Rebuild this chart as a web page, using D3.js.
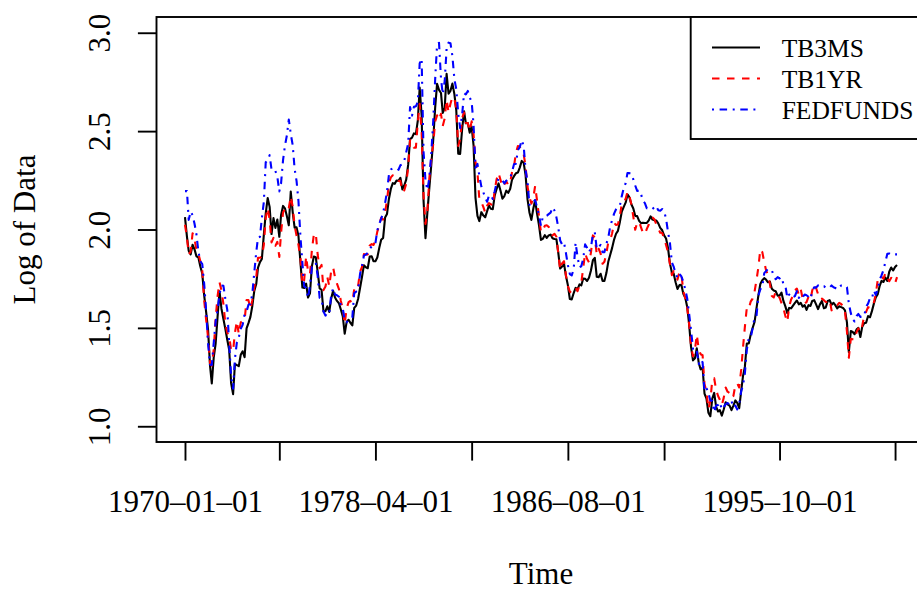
<!DOCTYPE html>
<html>
<head>
<meta charset="utf-8">
<script src="https://cdn.jsdelivr.net/npm/d3@7"></script>
<style>
  html, body { margin: 0; padding: 0; background: #fff; overflow: hidden; }
  svg { display: block; font-family: "Liberation Serif", "Times New Roman", serif; }
</style>
</head>
<body>
<svg id="chart" width="917" height="590"></svg>
<script>
// Monthly interest rates (percent), January 1970 onwards
const firstMonth = "1970-01-01";

const tb3ms = [
  7.87,7.13,6.63,6.51,6.84,6.68,6.45,6.41,6.12,5.91,5.28,4.87,
  4.44,3.70,3.38,3.86,4.14,4.75,5.40,4.94,4.69,4.46,4.22,4.01,
  3.38,3.20,3.73,3.71,3.69,3.91,3.98,3.86,4.47,4.59,4.74,5.01,
  5.41,5.60,6.09,6.26,6.36,7.19,8.01,8.67,8.29,7.22,7.83,7.45,
  7.77,7.12,7.96,8.33,8.23,7.90,7.55,8.96,8.06,7.46,7.47,7.15,
  6.26,5.50,5.49,5.61,5.23,5.34,6.13,6.44,6.42,5.96,5.48,5.44,
  4.87,4.88,5.00,4.86,5.20,5.41,5.23,5.14,5.08,4.92,4.75,4.35,
  4.62,4.67,4.60,4.54,4.96,5.02,5.19,5.49,5.81,6.16,6.10,6.07,
  6.44,6.45,6.29,6.29,6.41,6.73,7.01,7.08,7.85,7.99,8.64,9.08,
  9.35,9.32,9.48,9.46,9.61,9.06,9.24,9.52,10.26,11.70,11.79,12.04,
  12.00,12.86,15.20,13.20,8.58,7.07,8.06,9.13,10.27,11.62,13.73,15.49,
  15.02,14.79,13.36,13.69,16.30,14.73,14.95,15.51,14.70,13.54,10.86,10.85,
  12.28,13.48,12.68,12.70,12.09,12.47,11.35,8.68,7.92,7.71,8.07,7.94,
  7.86,8.11,8.35,8.21,8.19,8.79,9.08,9.34,9.00,8.64,8.76,9.00,
  8.90,9.09,9.52,9.69,9.83,9.87,10.12,10.47,10.37,9.74,8.61,8.06,
  7.76,8.22,8.57,8.00,7.56,7.01,7.05,7.18,7.08,7.17,7.20,7.07,
  7.04,7.03,6.59,6.06,6.12,6.21,5.84,5.57,5.19,5.18,5.35,5.49,
  5.45,5.59,5.56,5.76,5.75,5.69,5.78,6.00,6.32,6.40,5.81,5.80,
  5.90,5.69,5.69,5.92,6.27,6.50,6.73,7.02,7.23,7.34,7.68,8.09,
  8.29,8.48,8.83,8.70,8.40,8.22,7.92,7.91,7.72,7.63,7.65,7.64,
  7.64,7.74,7.90,7.77,7.74,7.73,7.62,7.45,7.36,7.17,7.06,6.74,
  6.22,5.94,5.91,5.65,5.46,5.57,5.58,5.33,5.22,4.99,4.56,4.07,
  3.80,3.84,4.04,3.75,3.63,3.66,3.21,3.13,2.91,2.86,3.13,3.22,
  3.00,2.93,2.95,2.87,2.96,3.07,3.04,3.02,2.95,3.02,3.10,3.06,
  2.98,3.25,3.50,3.68,4.14,4.14,4.33,4.48,4.62,4.95,5.29,5.60,
  5.71,5.77,5.73,5.65,5.67,5.47,5.42,5.40,5.28,5.28,5.36,5.14,
  5.00,4.83,4.96,4.95,5.02,5.09,5.15,5.05,5.09,4.99,5.03,4.91,
  5.03,5.01,5.14,5.16,5.05,4.93,5.05,5.14,4.95,4.97,5.14,5.16,
  5.04,5.09,5.03,4.95,5.00,4.98,4.96,4.90,4.61,3.96,4.41,4.39,
  4.34,4.45,4.48,4.28,4.51,4.59,4.60,4.76,4.73,4.88,5.07,5.23,
  5.32,5.55,5.69,5.66,5.79,5.69,5.96,6.09,6.00,6.11,6.17
];

const tb1yr = [
  7.57,7.10,6.52,6.60,7.25,7.06,6.64,6.53,6.29,6.01,5.15,4.68,
  4.27,3.75,3.70,4.02,4.71,5.27,5.65,5.42,5.06,4.59,4.37,4.30,
  4.00,3.99,4.37,4.64,4.34,4.61,4.64,4.66,5.16,5.16,4.93,5.16,
  5.51,5.79,6.40,6.40,6.44,6.83,7.84,8.25,7.77,6.92,7.08,6.80,
  6.94,6.43,7.26,8.06,8.21,8.11,8.23,8.75,8.29,7.53,7.16,6.83,
  6.39,5.59,5.71,6.45,5.97,5.88,6.65,7.20,7.25,6.50,6.07,6.17,
  5.43,5.53,5.81,5.54,5.98,6.10,5.80,5.61,5.46,5.14,4.95,4.57,
  4.95,5.11,5.14,5.09,5.46,5.42,5.55,5.96,6.11,6.52,6.50,6.51,
  6.81,6.86,6.83,6.97,7.31,7.56,7.84,7.77,8.08,8.55,9.36,9.63,
  9.73,9.57,9.58,9.46,9.46,8.95,9.01,9.33,10.14,11.63,11.58,11.20,
  11.20,12.80,14.00,12.10,8.80,7.60,8.10,9.60,10.60,11.40,12.80,13.20,
  12.90,13.30,12.50,13.00,14.30,13.40,14.00,14.50,14.40,13.60,11.30,11.70,
  13.00,13.40,12.70,12.70,12.20,12.80,12.00,10.40,9.90,8.60,8.50,8.30,
  8.06,8.34,8.45,8.40,8.32,9.03,9.54,9.85,9.50,9.17,9.29,9.45,
  9.26,9.39,9.90,10.19,10.90,11.29,11.25,11.05,10.83,10.19,9.18,8.72,
  8.43,8.69,9.22,8.55,7.91,7.29,7.35,7.53,7.55,7.49,7.37,7.17,
  7.23,7.12,6.57,6.02,6.22,6.29,5.86,5.54,5.39,5.35,5.42,5.49,
  5.40,5.57,5.64,6.08,6.55,6.36,6.25,6.57,7.17,7.10,6.51,6.70,
  6.54,6.21,6.27,6.55,6.92,7.00,7.25,7.64,7.56,7.58,7.93,8.41,
  8.46,8.65,8.95,8.75,8.40,7.89,7.38,7.65,7.69,7.47,7.26,7.22,
  7.41,7.58,7.81,7.85,7.78,7.57,7.42,7.27,7.26,7.06,6.83,6.59,
  6.21,5.86,5.98,5.83,5.73,5.95,5.90,5.40,5.21,4.98,4.57,4.10,
  3.88,4.01,4.33,4.02,3.92,3.90,3.37,3.24,2.97,3.09,3.44,3.47,
  3.27,3.17,3.11,3.03,3.14,3.31,3.24,3.22,3.14,3.17,3.35,3.38,
  3.31,3.62,4.04,4.51,4.96,4.93,5.12,5.20,5.39,5.71,6.11,6.68,
  6.59,6.26,6.01,5.86,5.61,5.27,5.23,5.38,5.25,5.23,5.08,4.96,
  4.76,4.62,4.99,5.18,5.27,5.43,5.47,5.30,5.45,5.19,5.07,5.11,
  5.25,5.17,5.42,5.60,5.49,5.32,5.18,5.20,5.16,5.11,5.11,5.17,
  4.90,4.96,5.04,5.03,5.09,5.06,5.01,4.87,4.40,3.85,4.24,4.23,
  4.22,4.39,4.47,4.39,4.53,4.77,4.86,4.98,4.96,4.96,5.10,5.32,
  5.72,5.82,5.82,5.75,5.92,5.77,5.68,5.78,5.73,5.62,5.80
];

const fedfunds = [
  8.98,8.98,7.76,8.10,7.95,7.61,7.21,6.61,6.29,6.20,5.60,4.90,
  4.14,3.72,3.71,4.16,4.63,4.91,5.31,5.56,5.55,5.20,4.91,4.14,
  3.50,3.29,3.83,4.17,4.27,4.46,4.55,4.80,4.87,5.04,5.06,5.33,
  5.94,6.58,7.09,7.12,7.84,8.49,10.40,10.50,10.78,10.01,10.03,9.95,
  9.65,8.97,9.35,10.51,11.31,11.93,12.92,12.01,11.34,10.06,9.45,8.53,
  7.13,6.24,5.54,5.49,5.22,5.55,6.10,6.14,6.24,5.82,5.22,5.20,
  4.87,4.77,4.84,4.82,5.29,5.48,5.31,5.29,5.25,5.02,4.95,4.65,
  4.61,4.68,4.69,4.73,5.35,5.39,5.42,5.90,6.14,6.47,6.51,6.56,
  6.70,6.78,6.79,6.89,7.36,7.60,7.81,8.04,8.45,8.96,9.76,10.03,
  10.07,10.06,10.09,10.01,10.24,10.29,10.47,10.94,11.43,13.77,13.18,13.78,
  13.82,14.13,17.19,17.61,10.98,9.47,9.03,9.61,10.87,12.81,15.85,18.90,
  19.08,15.93,14.70,15.72,18.52,19.10,19.04,17.82,15.87,15.08,13.31,12.37,
  13.22,14.78,14.68,14.94,14.45,14.15,12.59,10.12,10.31,9.71,9.20,8.95,
  8.68,8.51,8.77,8.80,8.63,8.98,9.37,9.56,9.45,9.48,9.34,9.47,
  9.56,9.59,9.91,10.29,10.32,11.06,11.23,11.64,11.30,9.99,9.43,8.38,
  8.35,8.50,8.58,8.27,7.97,7.53,7.88,7.90,7.92,7.99,8.05,8.27,
  8.14,7.86,7.48,6.99,6.85,6.92,6.56,6.17,5.89,5.85,6.04,6.91,
  6.43,6.10,6.13,6.37,6.85,6.73,6.58,6.73,7.22,7.29,6.69,6.77,
  6.83,6.58,6.58,6.87,7.09,7.51,7.75,8.01,8.19,8.30,8.35,8.76,
  9.12,9.36,9.85,9.84,9.81,9.53,9.24,8.99,9.02,8.84,8.55,8.45,
  8.23,8.24,8.28,8.26,8.18,8.29,8.15,8.13,8.20,8.11,7.81,7.31,
  6.91,6.25,6.12,5.91,5.78,5.90,5.82,5.66,5.45,5.21,4.81,4.43,
  4.03,4.06,3.98,3.73,3.82,3.76,3.25,3.30,3.22,3.10,3.09,2.92,
  3.02,3.03,3.07,2.96,3.00,3.04,3.06,3.03,3.09,2.99,3.02,2.96,
  3.05,3.25,3.34,3.56,4.01,4.25,4.26,4.47,4.73,4.76,5.29,5.45,
  5.53,5.92,5.98,6.05,6.01,6.00,5.85,5.74,5.80,5.76,5.80,5.60,
  5.56,5.22,5.31,5.22,5.24,5.27,5.40,5.22,5.30,5.24,5.31,5.29,
  5.25,5.19,5.39,5.51,5.50,5.56,5.52,5.54,5.54,5.50,5.52,5.50,
  5.56,5.51,5.49,5.45,5.49,5.56,5.54,5.55,5.51,5.07,4.83,4.68,
  4.63,4.76,4.81,4.74,4.74,4.76,4.99,5.07,5.22,5.20,5.42,5.30,
  5.45,5.73,5.85,6.02,6.27,6.53,6.54,6.50,6.52,6.51,6.51
];

const seriesNames  = ["TB3MS", "TB1YR", "FEDFUNDS"];
const seriesColors = ["#000000", "#ff0000", "#0000ff"];
const seriesDashes = [null, "7.5,7.5", "2,5.6,7.5,5.6"];

const xTickDates  = ["1970-01-01", "1974-02-01", "1978-04-01", "1982-06-01",
                     "1986-08-01", "1990-10-01", "1995-10-01", "2000-10-01"];
const xTickLabels = ["1970\u201301\u201301", "", "1978\u201304\u201301", "",
                     "1986\u201308\u201301", "", "1995\u201310\u201301", ""];
const yTicks = [1.0, 1.5, 2.0, 2.5, 3.0];
const yLimits = [1, 3];

const xTitle = "Time";
const yTitle = "Log of Data";

// ---- layout ----
const plot = { left: 156.5, right: 925.5, top: 17, bottom: 442 };
const fontSize = 31;
const legendFont = 25.5;
const lw = 2.1;

const svg = d3.select("#chart");
const parse = d3.timeParse("%Y-%m-%d");
const start = parse(firstMonth);
const months = tb3ms.map((_, i) => d3.timeMonth.offset(start, i));

// 4% padding on both ends of each axis
const t0 = +months[0], t1 = +months[months.length - 1];
const padT = 0.04 * (t1 - t0);
const x = d3.scaleTime()
  .domain([new Date(t0 - padT), new Date(t1 + padT)])
  .range([plot.left, plot.right]);

const padY = 0.04 * (yLimits[1] - yLimits[0]);
const y = d3.scaleLinear()
  .domain([yLimits[0] - padY, yLimits[1] + padY])
  .range([plot.bottom, plot.top]);

// ---- series lines ----
const series = [tb3ms, tb1yr, fedfunds];
const line = d3.line()
  .x(d => x(d.date))
  .y(d => y(Math.log(d.value)));

series.forEach((vals, k) => {
  const pts = vals.map((v, i) => ({ date: months[i], value: v }));
  svg.append("path")
    .datum(pts)
    .attr("d", line)
    .attr("fill", "none")
    .attr("stroke", seriesColors[k])
    .attr("stroke-width", lw)
    .attr("stroke-linejoin", "round")
    .attr("stroke-dasharray", seriesDashes[k]);
});

// ---- plot frame ----
svg.append("rect")
  .attr("x", plot.left).attr("y", plot.top)
  .attr("width", plot.right - plot.left)
  .attr("height", plot.bottom - plot.top)
  .attr("fill", "none").attr("stroke", "#000").attr("stroke-width", 1.9);

// ---- x axis ----
const tickDates = xTickDates.map(parse);
const gx = svg.append("g")
  .attr("transform", `translate(0,${plot.bottom})`)
  .call(d3.axisBottom(x)
    .tickValues(tickDates)
    .tickSize(18.6)
    .tickFormat((d, i) => xTickLabels[i]));
gx.select(".domain").remove();
gx.selectAll(".tick line").attr("stroke", "#000").attr("stroke-width", 1.9);
gx.selectAll(".tick text")
  .attr("y", 512 - plot.bottom).attr("dy", 0)
  .attr("font-size", fontSize)
  .attr("font-family", "Liberation Serif, Times New Roman, serif")
  .attr("fill", "#000");

// ---- y axis ----
const gy = svg.append("g")
  .attr("transform", `translate(${plot.left},0)`)
  .call(d3.axisLeft(y)
    .tickValues(yTicks)
    .tickSize(18.6)
    .tickFormat(d3.format(".1f")));
gy.select(".domain").remove();
gy.selectAll(".tick line").attr("stroke", "#000").attr("stroke-width", 1.9);
gy.selectAll(".tick text")
  .attr("x", 0).attr("y", 0).attr("dy", 0)
  .attr("text-anchor", "middle")
  .attr("transform", `translate(${110 - plot.left},0) rotate(-90)`)
  .attr("font-size", fontSize)
  .attr("font-family", "Liberation Serif, Times New Roman, serif")
  .attr("fill", "#000");

// ---- axis titles ----
svg.append("text")
  .attr("x", (plot.left + plot.right) / 2).attr("y", 584)
  .attr("text-anchor", "middle")
  .attr("font-size", fontSize)
  .text(xTitle);

svg.append("text")
  .attr("transform", `translate(35,${(plot.top + plot.bottom) / 2}) rotate(-90)`)
  .attr("text-anchor", "middle")
  .attr("font-size", fontSize)
  .text(yTitle);

// ---- legend ----
const leg = { left: 690.7, top: plot.top, bottom: 139, row0: 47.5, rowGap: 31 };
svg.append("rect")
  .attr("x", leg.left).attr("y", leg.top)
  .attr("width", plot.right - leg.left)
  .attr("height", leg.bottom - leg.top)
  .attr("fill", "#fff").attr("stroke", "#000").attr("stroke-width", 1.9);

seriesNames.forEach((name, k) => {
  const cy = leg.row0 + k * leg.rowGap;
  svg.append("line")
    .attr("x1", 712).attr("x2", 760)
    .attr("y1", cy).attr("y2", cy)
    .attr("stroke", seriesColors[k])
    .attr("stroke-width", lw)
    .attr("stroke-dasharray", seriesDashes[k]);
  svg.append("text")
    .attr("x", 781.7).attr("y", cy + 9.5)
    .attr("font-size", legendFont)
    .text(name);
});
</script>
</body>
</html>
